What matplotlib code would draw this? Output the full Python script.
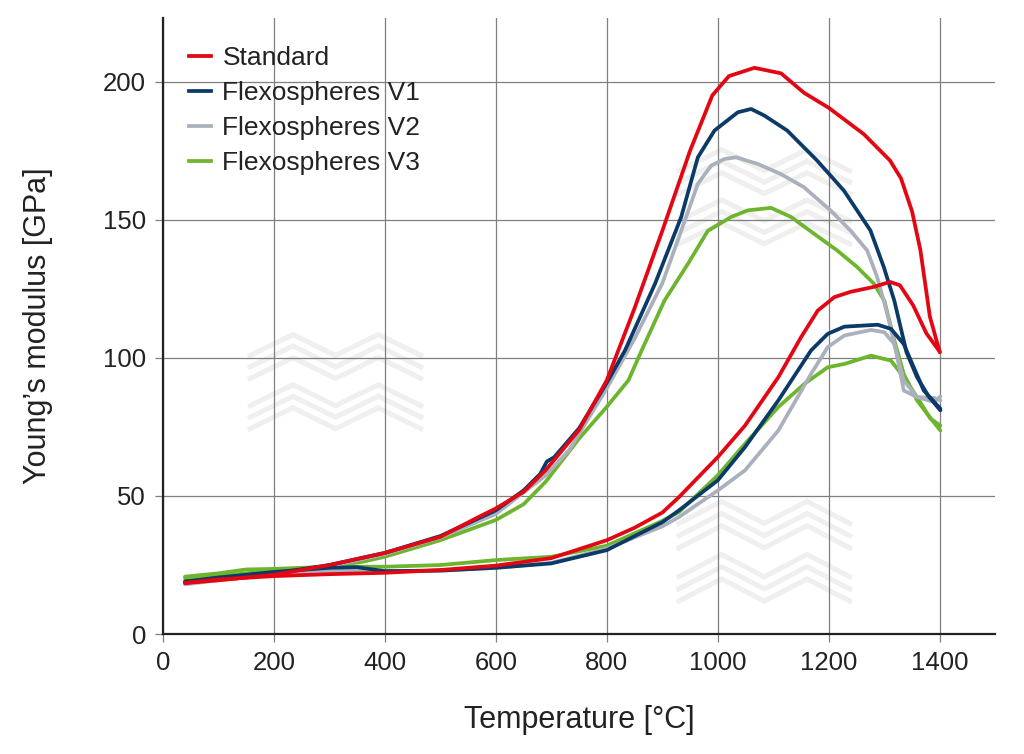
import matplotlib
matplotlib.use("Agg")
import matplotlib.pyplot as plt
from matplotlib.lines import Line2D

plt.rcParams['font.family'] = ['Liberation Sans', 'DejaVu Sans']

# Standard
std_low_T = [40, 100, 200, 300, 400, 500, 600, 700, 800, 850, 900, 930, 1000, 1049, 1109, 1150, 1180, 1210, 1239, 1281, 1310, 1328, 1352, 1376, 1400]
std_low_E = [18.5, 19.8, 21, 21.7, 22.2, 23.2, 24.8, 27.5, 34, 38.5, 44, 49.6, 64.1, 75.5, 93, 107.5, 117.1, 122, 123.9, 125.7, 127.5, 126.3, 119, 108.8, 102.2]
std_up_T = [40, 100, 200, 300, 400, 500, 570, 600, 650, 690, 750, 800, 850, 900, 950, 990, 1020, 1066, 1114, 1155, 1200, 1263, 1310, 1330, 1350, 1365, 1382, 1400]
std_up_E = [18.5, 19.5, 21.5, 25, 29.4, 35.2, 42.5, 45.5, 51.5, 59.4, 73.9, 91.9, 118, 146, 175, 195, 202, 205, 203, 196, 190.5, 181, 171.5, 165, 153, 139, 115, 102]

# Flexospheres V1
v1_low_T = [40, 100, 200, 300, 350, 400, 500, 600, 700, 800, 900, 930, 1000, 1049, 1109, 1168, 1198, 1228, 1288, 1312, 1335, 1353, 1371, 1401]
v1_low_E = [19, 20.5, 22.5, 24, 24.2, 22.8, 23, 24, 25.6, 30.4, 40.5, 44.8, 55.7, 67.7, 84.6, 102.7, 108.7, 111.3, 112, 110.5, 105, 96.6, 88.2, 81.6]
v1_up_T = [40, 100, 200, 300, 400, 500, 600, 650, 680, 692, 705, 750, 800, 833, 887, 934, 964, 994, 1036, 1060, 1084, 1125, 1179, 1227, 1275, 1299, 1318, 1340, 1359, 1380, 1401]
v1_up_E = [19, 20, 22, 25, 29.4, 35.5, 44.8, 52, 58, 62.5, 64, 74.5, 91, 102.8, 126.9, 151, 172.6, 182.3, 188.9, 190.1, 187.7, 182.3, 171.4, 160.6, 146.1, 132.9, 120.7, 102, 93, 86, 81]

# Flexospheres V2
v2_low_T = [40, 100, 200, 300, 400, 500, 600, 700, 800, 900, 930, 1000, 1049, 1109, 1168, 1198, 1228, 1276, 1300, 1318, 1335, 1359, 1390, 1401]
v2_low_E = [18, 19.5, 21.5, 22.8, 22.8, 23, 24, 25.8, 31, 39, 42.4, 52, 59.3, 73.7, 94.2, 103.9, 108.1, 110.1, 109.3, 105, 91.8, 85.8, 85.5, 84.6]
v2_up_T = [40, 100, 200, 300, 400, 500, 600, 690, 732, 800, 850, 900, 934, 964, 988, 1012, 1033, 1072, 1113, 1155, 1203, 1239, 1269, 1287, 1304, 1321, 1335, 1359, 1390, 1401]
v2_up_E = [18.5, 19.5, 21.5, 24.5, 29, 35, 43.5, 57.5, 66.6, 89, 107, 127, 146, 163, 169.6, 172, 172.6, 170.2, 166.6, 161.8, 153.4, 146.1, 138.9, 129.3, 117, 102.6, 88.2, 85.8, 84, 86]

# Flexospheres V3
v3_low_T = [40, 100, 150, 200, 300, 400, 500, 600, 700, 800, 900, 930, 1000, 1049, 1109, 1156, 1198, 1228, 1276, 1312, 1335, 1359, 1383, 1401]
v3_low_E = [20.8, 22, 23.4, 23.6, 24.4, 24.4, 25, 26.8, 28, 32, 41, 44.2, 57.5, 68.9, 82.2, 90.6, 96.6, 97.8, 100.8, 99, 93, 85.8, 78, 75.5]
v3_up_T = [40, 100, 200, 300, 360, 400, 500, 600, 650, 690, 750, 800, 839, 863, 904, 946, 982, 1024, 1054, 1096, 1132, 1173, 1215, 1251, 1281, 1300, 1318, 1335, 1359, 1382, 1401]
v3_up_E = [20.2, 21, 23, 24.5, 26.2, 28, 34, 41.3, 47, 55.2, 70.8, 82.3, 91.9, 102.8, 120.8, 134, 146, 151, 153.4, 154.3, 151, 145, 138.9, 132.9, 126.9, 120.7, 106.3, 94.2, 84.6, 78.5, 73.7]

labels = ['Standard', 'Flexospheres V1', 'Flexospheres V2', 'Flexospheres V3']
colors = ['#e30613', '#0b3a68', '#aab1bd', '#6cb52d']

series = [
    (std_low_T, std_low_E, std_up_T, std_up_E),
    (v1_low_T, v1_low_E, v1_up_T, v1_up_E),
    (v2_low_T, v2_low_E, v2_up_T, v2_up_E),
    (v3_low_T, v3_low_E, v3_up_T, v3_up_E),
]

fig = plt.figure(figsize=(10.24, 7.54), dpi=100)
ax = fig.add_axes([0.159, 0.159, 0.813, 0.817])


def watermark(ax, x0, y0, w, h):
    # faint background logo: two rows of nested zigzags (axes fraction)
    zx = [0, 0.25, 0.5, 0.75, 1.0]
    zy = [0.0, 0.2, 0.0, 0.2, 0.0]
    for row in range(2):
        for k in range(3):
            xs = [x0 + w * v for v in zx]
            ys = [y0 + h * (0.72 - 0.48 * row - 0.11 * k + d) for d in zy]
            ax.plot(xs, ys, transform=ax.transAxes, color='#efefef', lw=3.6,
                    solid_joinstyle='miter', zorder=0.5)


watermark(ax, 0.105, 0.33, 0.205, 0.17)
watermark(ax, 0.62, 0.63, 0.205, 0.17)
watermark(ax, 0.62, 0.05, 0.205, 0.18)

lw = 2.7
# draw V3 first so Standard ends up on top
for i in [3, 2, 1, 0]:
    lt, le, ut, ue = series[i]
    ax.plot(lt, le, color=colors[i], lw=lw, solid_capstyle='round', solid_joinstyle='round', zorder=3 + (3 - i))
    ax.plot(ut, ue, color=colors[i], lw=lw, solid_capstyle='round', solid_joinstyle='round', zorder=3 + (3 - i))

ax.set_xlim(0, 1500)
ax.set_ylim(0, 223)
ax.set_xticks(range(0, 1401, 200))
ax.set_yticks(range(0, 201, 50))
ax.grid(True, color='#7f7f7f', lw=0.9, zorder=1)
ax.set_axisbelow(True)

for side in ['top', 'right']:
    ax.spines[side].set_visible(False)
for side in ['left', 'bottom']:
    ax.spines[side].set_color('#222222')
    ax.spines[side].set_linewidth(1.6)

ax.tick_params(axis='both', direction='out', length=6, width=0.9, color='#7f7f7f',
               labelsize=18.5, labelcolor='#222222', pad=6)

ax.set_xlabel('Temperature [°C]', fontsize=22, color='#222222', labelpad=22)
ax.set_ylabel('Young’s modulus [GPa]', fontsize=22, color='#222222', labelpad=36)

handles = [Line2D([0], [0], color=c, lw=lw) for c in colors]
ax.legend(handles, labels, loc='upper left', frameon=False, fontsize=19,
          handlelength=0.8, handletextpad=0.45, labelspacing=0.42,
          borderaxespad=0.2, bbox_to_anchor=(0.013, 0.98), labelcolor='#222222')

fig.savefig('out.png', dpi=100)
